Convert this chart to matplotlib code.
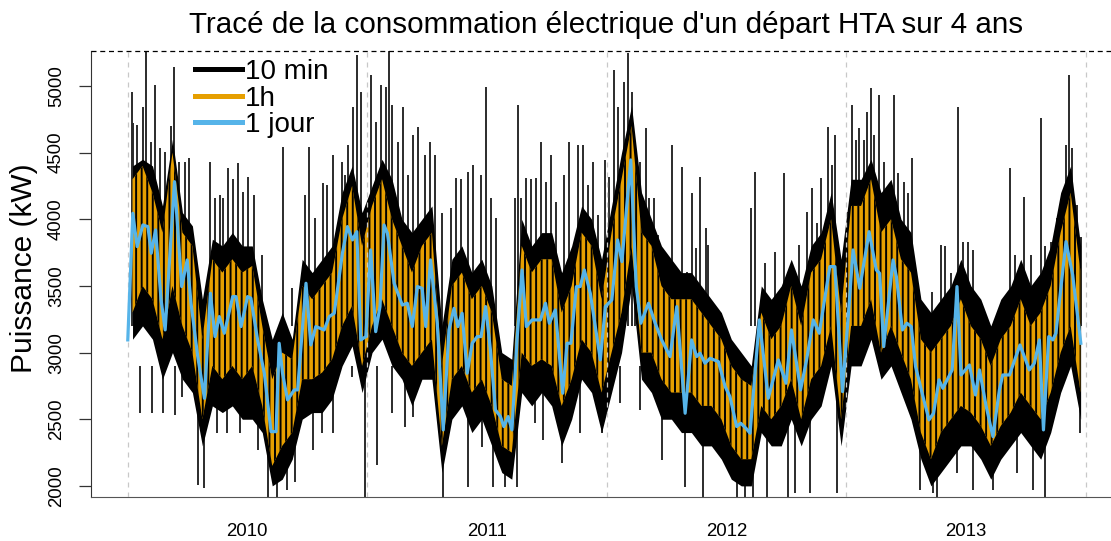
import numpy as np
import matplotlib
matplotlib.use('Agg')
import matplotlib.pyplot as plt
from matplotlib.lines import Line2D

plt.rcParams['font.family'] = ['Liberation Sans', 'DejaVu Sans']
plt.rcParams['hatch.linewidth'] = 1.4

# grille demi-mensuelle, juillet 2009 -> juin 2013 (annees decimales)
t = 2009.5 + (np.arange(96) + 0.5) / 24

# pas 10 min : enveloppe basse / haute du faisceau (kW), 12 valeurs par semestre
p10_lo = [3100, 3200, 3100, 2800, 3000, 2800, 2700, 2300, 2600, 2550, 2600, 2500,
          2500, 2400, 2000, 2050, 2200, 2500, 2550, 2550, 2650, 2900, 3050, 2700,
          3000, 3100, 2900, 2800, 2600, 2800, 2800, 2100, 2500, 2600, 2400, 2500,
          2300, 2100, 2050, 2700, 2600, 2700, 2600, 2300, 2500, 2800, 2700, 2400,
          2700, 3000, 3500, 2800, 2700, 2500, 2500, 2400, 2400, 2300, 2300, 2200,
          2050, 2000, 2000, 2400, 2300, 2300, 2500, 2300, 2500, 2600, 2900, 2300,
          2900, 2900, 3100, 2800, 2900, 2700, 2500, 2200, 2000, 2100, 2200, 2300,
          2300, 2200, 2050, 2200, 2300, 2400, 2300, 2200, 2400, 2700, 2900, 2500]
p10_hi = [4400, 4450, 4400, 4100, 4600, 4050, 3950, 3400, 3850, 3800, 3900, 3800,
          3800, 3400, 3100, 3300, 3100, 3700, 3600, 3700, 3800, 4200, 4400, 4050,
          4250, 4450, 4300, 4000, 3900, 4000, 4100, 3200, 3700, 3800, 3600, 3700,
          3500, 3000, 2950, 4000, 3800, 3900, 3900, 3600, 3800, 4100, 4000, 3700,
          4100, 4500, 4850, 4200, 4000, 3800, 3700, 3600, 3600, 3500, 3400, 3300,
          3100, 3000, 2900, 3500, 3400, 3500, 3700, 3500, 3800, 3900, 4200, 3700,
          4300, 4300, 4450, 4200, 4300, 4000, 3900, 3400, 3300, 3400, 3500, 3700,
          3500, 3400, 3200, 3400, 3500, 3700, 3500, 3600, 3800, 4200, 4400, 3800]

# pics isoles du pas 10 min (sommets)
pic_haut_t = [2009.518, 2009.522, 2009.539, 2009.564, 2009.579, 2009.596, 2009.614,
              2009.635, 2009.656, 2009.683, 2009.693, 2009.714, 2009.739, 2009.756,
              2009.844, 2009.865, 2009.886, 2009.900, 2009.921, 2009.942, 2009.963,
              2009.984, 2010.005, 2010.026, 2010.061, 2010.147, 2010.186, 2010.242,
              2010.258, 2010.281, 2010.317, 2010.331, 2010.356, 2010.394, 2010.408,
              2010.422, 2010.443, 2010.460, 2010.474, 2010.516, 2010.537, 2010.558,
              2010.579, 2010.592, 2010.606, 2010.629, 2010.650, 2010.671, 2010.692,
              2010.713, 2010.741, 2010.762, 2010.783, 2010.811, 2010.852, 2010.873,
              2010.894, 2010.922, 2010.942, 2010.977, 2010.998, 2011.019, 2011.040,
              2011.116, 2011.130, 2011.144, 2011.165, 2011.185, 2011.206, 2011.227,
              2011.248, 2011.269, 2011.290, 2011.324, 2011.345, 2011.380, 2011.401,
              2011.422, 2011.442, 2011.463, 2011.495, 2011.509, 2011.530, 2011.548,
              2011.571, 2011.589, 2011.607, 2011.617, 2011.638, 2011.665, 2011.679,
              2011.697, 2011.715, 2011.772, 2011.790, 2011.813, 2011.834, 2011.855,
              2011.873, 2011.890, 2011.914, 2011.924, 2012.105, 2012.119, 2012.161,
              2012.202, 2012.240, 2012.279, 2012.302, 2012.337, 2012.357, 2012.380,
              2012.397, 2012.423, 2012.441, 2012.455, 2012.506, 2012.524, 2012.541,
              2012.555, 2012.576, 2012.587, 2012.604, 2012.618, 2012.636, 2012.659,
              2012.680, 2012.700, 2012.717, 2012.740, 2012.758, 2012.777, 2012.857,
              2012.896, 2012.913, 2012.938, 2012.968, 2012.989, 2013.007, 2013.031,
              2013.183, 2013.204, 2013.243, 2013.274, 2013.313, 2013.329, 2013.357,
              2013.382, 2013.403, 2013.417, 2013.430, 2013.444, 2013.465, 2013.479]
pic_haut_kw = [4958, 4720, 4708, 4845, 5257, 4583, 5007,
               4533, 4508, 4700, 5145, 4432, 4432, 4457,
               4432, 4158, 4182, 4160, 4382, 4300, 4420,
               4208, 4320, 4182, 3732, 4545, 3482, 4182,
               4545, 4008, 4270, 4260, 4482, 4432, 4332,
               4557, 4845, 5232, 4958, 5082, 4733, 5007,
               4995, 5270, 4858, 4583, 4845, 4332, 4632,
               4695, 4482, 4583, 4480, 4045, 4082, 4307,
               4300, 4357, 4407, 4330, 4995, 4158, 4008,
               4158, 4858, 4160, 4307, 4300, 4310, 4583,
               4282, 4482, 4132, 4332, 4583, 4557, 4557,
               4257, 4432, 4032, 4445, 4320, 5120, 4845,
               5032, 5245, 4958, 3857, 4432, 4682, 4158,
               4160, 3882, 4557, 3507, 4395, 3607, 4195,
               3782, 4320, 3932, 3807, 4082, 4357, 3670,
               3757, 4345, 3645, 3807, 4057, 4232, 3970,
               4307, 4695, 4407, 4632, 4057, 4857, 4595,
               4682, 4595, 4808, 4982, 4632, 4932, 4432,
               4132, 4932, 4350, 4282, 4195, 4457, 3457,
               3807, 3800, 3600, 4845, 3832, 3830, 3770,
               4382, 3732, 4170, 3730, 4757, 3800, 3832,
               4008, 4000, 4557, 5082, 4532, 4107, 3870]
# creux isoles du pas 10 min (minima)
pic_bas_t = [2009.551, 2009.601, 2009.647, 2009.697, 2009.726, 2009.794, 2009.819,
             2009.873, 2009.915, 2009.969, 2010.044, 2010.086, 2010.124, 2010.165,
             2010.199, 2010.274, 2010.311, 2010.357, 2010.437, 2010.491, 2010.541,
             2010.604, 2010.658, 2010.691, 2010.816, 2010.921, 2010.979, 2011.025,
             2011.075, 2011.125, 2011.200, 2011.233, 2011.313, 2011.388, 2011.480,
             2011.555, 2011.639, 2011.731, 2011.827, 2011.902, 2012.002, 2012.044,
             2012.077, 2012.110, 2012.169, 2012.257, 2012.286, 2012.349, 2012.461,
             2012.808, 2012.862, 2012.879, 2012.962, 2013.029, 2013.113, 2013.213,
             2013.280, 2013.330, 2013.476]
pic_bas_kw = [2545, 2545, 2545, 2530, 2670, 2007, 1982,
              2395, 2395, 2395, 2270, 1900, 1900, 1970,
              2032, 2270, 2395, 2395, 2820, 1900, 2157,
              2545, 2445, 2520, 1900, 1995, 2295, 1995,
              1995, 1995, 2470, 2345, 2170, 2395, 2395,
              2620, 2570, 2195, 1995, 1900, 2195, 1900,
              1900, 1900, 1900, 1900, 1945, 1945, 1945,
              1970, 1945, 1900, 2095, 1970, 1970, 2095,
              1970, 1900, 2395]

# pas 1 h : enveloppe basse / haute
p1h_lo = [3300, 3500, 3400, 3100, 3500, 3200, 3000, 2500, 2900, 2800, 2900, 2800,
          2900, 2600, 2150, 2300, 2400, 2800, 2800, 2850, 2950, 3200, 3350, 2900,
          3200, 3400, 3200, 3000, 2900, 3000, 3100, 2300, 2800, 2900, 2700, 2800,
          2600, 2300, 2250, 3000, 2900, 2950, 2900, 2600, 2800, 3100, 3000, 2700,
          3000, 3300, 3800, 3000, 3000, 2800, 2700, 2700, 2700, 2600, 2600, 2500,
          2300, 2200, 2200, 2600, 2500, 2600, 2800, 2500, 2800, 2900, 3200, 2500,
          3200, 3200, 3400, 3000, 3200, 3000, 2800, 2400, 2200, 2400, 2500, 2600,
          2550, 2450, 2300, 2450, 2550, 2700, 2600, 2500, 2700, 3000, 3200, 2700]
p1h_hi = [4300, 4400, 4200, 3900, 4500, 3900, 3800, 3100, 3700, 3600, 3700, 3600,
          3650, 3200, 2800, 3000, 2950, 3500, 3400, 3500, 3600, 4000, 4250, 3800,
          4100, 4300, 4000, 3800, 3600, 3800, 3900, 2900, 3500, 3600, 3400, 3500,
          3300, 2800, 2750, 3800, 3600, 3700, 3700, 3300, 3500, 3900, 3800, 3400,
          3900, 4300, 4700, 3900, 3800, 3500, 3400, 3400, 3400, 3300, 3200, 3100,
          2900, 2800, 2750, 3300, 3100, 3200, 3500, 3200, 3600, 3700, 4000, 3300,
          4100, 4100, 4300, 3900, 4000, 3700, 3600, 3100, 3000, 3100, 3200, 3400,
          3200, 3100, 2900, 3100, 3200, 3400, 3200, 3300, 3500, 3900, 4200, 3600]

# pas 1 jour (courbe lissee)
jour_t = [2009.501, 2009.522, 2009.540, 2009.564, 2009.585, 2009.599, 2009.617, 2009.640,
          2009.657, 2009.696, 2009.726, 2009.749, 2009.765, 2009.793, 2009.821, 2009.846,
          2009.865, 2009.883, 2009.904, 2009.939, 2009.953, 2009.974, 2010.001, 2010.015,
          2010.043, 2010.071, 2010.099, 2010.120, 2010.133, 2010.147, 2010.168, 2010.196,
          2010.210, 2010.245, 2010.265, 2010.286, 2010.321, 2010.342, 2010.363, 2010.397,
          2010.418, 2010.439, 2010.457, 2010.474, 2010.495, 2010.515, 2010.536, 2010.554,
          2010.571, 2010.585, 2010.613, 2010.647, 2010.668, 2010.689, 2010.710, 2010.730,
          2010.745, 2010.765, 2010.793, 2010.818, 2010.842, 2010.863, 2010.879, 2010.897,
          2010.918, 2010.939, 2010.960, 2010.976, 2010.995, 2011.015, 2011.036, 2011.057,
          2011.071, 2011.089, 2011.105, 2011.126, 2011.147, 2011.165, 2011.189, 2011.224,
          2011.245, 2011.261, 2011.286, 2011.317, 2011.335, 2011.351, 2011.374, 2011.390,
          2011.407, 2011.432, 2011.453, 2011.474, 2011.495, 2011.522, 2011.546, 2011.564,
          2011.601, 2011.624, 2011.643, 2011.675, 2011.703, 2011.730, 2011.765, 2011.793,
          2011.828, 2011.855, 2011.876, 2011.890, 2011.911, 2011.932, 2011.967, 2011.995,
          2012.015, 2012.043, 2012.060, 2012.082, 2012.099, 2012.138, 2012.175, 2012.217,
          2012.249, 2012.272, 2012.310, 2012.335, 2012.363, 2012.388, 2012.432, 2012.453,
          2012.485, 2012.513, 2012.529, 2012.557, 2012.596, 2012.626, 2012.640, 2012.657,
          2012.675, 2012.696, 2012.710, 2012.735, 2012.754, 2012.772, 2012.790, 2012.821,
          2012.846, 2012.865, 2012.888, 2012.904, 2012.932, 2012.943, 2012.963, 2012.980,
          2013.015, 2013.040, 2013.057, 2013.085, 2013.113, 2013.140, 2013.154, 2013.182,
          2013.226, 2013.265, 2013.286, 2013.307, 2013.324, 2013.346, 2013.363, 2013.376,
          2013.418, 2013.446, 2013.480]
jour_kw = [3095, 4045, 3795, 3957, 3945, 3745, 3920, 3395,
           3170, 4282, 3495, 3695, 3370, 2970, 2657, 3445,
           3120, 3270, 3145, 3420, 3420, 3195, 3420, 3408,
           3095, 2845, 2407, 2407, 3070, 2845, 2645, 2720,
           2720, 3520, 3057, 3195, 3170, 3270, 3295, 3745,
           3945, 3845, 3907, 3095, 3120, 3770, 3157, 3345,
           3957, 3895, 3520, 3357, 3370, 3195, 3495, 3482,
           3195, 3695, 3220, 2420, 3170, 3332, 3195, 3295,
           2845, 3070, 3120, 3120, 3345, 3020, 2570, 2520,
           2445, 2520, 2420, 3095, 3620, 3195, 3245, 3245,
           3370, 3220, 3320, 2695, 3070, 3070, 3495, 3495,
           3620, 3445, 3195, 2945, 3345, 3395, 3845, 3682,
           4445, 3495, 3220, 3370, 3220, 3095, 2970, 3345,
           2545, 3095, 2970, 2995, 2920, 2957, 2932, 2745,
           2670, 2445, 2470, 2432, 2395, 3245, 2657, 2945,
           2770, 3170, 2720, 2945, 3245, 3145, 3645, 3645,
           2707, 3370, 3770, 3482, 3907, 3620, 3595, 3045,
           3345, 3695, 3570, 3170, 3220, 3195, 2895, 2670,
           2495, 2545, 2795, 2732, 2832, 2870, 3495, 2832,
           2907, 2682, 2870, 2595, 2370, 2720, 2832, 2832,
           3057, 2870, 2920, 3095, 2420, 3120, 3095, 3145,
           3832, 3582, 3070]

annees = [2010, 2011, 2012, 2013]
mi_annees = [2009.5, 2010.5, 2011.5, 2012.5, 2013.5]
max_kw = 5262

fig = plt.figure(figsize=(11.11, 5.41), dpi=100)
ax = fig.add_axes([0.0816, 0.0819, 0.9184, 0.8238])

# 10 min : pics dessines sous le faisceau
ax.vlines(pic_haut_t, 3200, pic_haut_kw, color='#2b2b2b', lw=1.4, zorder=1.5)
ax.vlines(pic_bas_t, pic_bas_kw, 2900, color='#2b2b2b', lw=1.4, zorder=1.5)
ax.fill_between(t, p10_lo, p10_hi, color='black', lw=0, zorder=2)
# 1h
ax.fill_between(t, p1h_lo, p1h_hi, facecolor='#E69F00', edgecolor='black',
                hatch='|||', lw=0, zorder=3)
# 1 jour
ax.plot(jour_t, jour_kw, color='#56B4E9', lw=2.3, zorder=5)

for a in mi_annees:
    ax.axvline(a, color='#c8c8c8', ls=(0, (4, 4)), lw=0.9, zorder=4)
ax.axhline(max_kw, color='black', ls=(0, (4, 3)), lw=0.9, clip_on=False, zorder=6)

ax.set_xlim(2009.346, 2013.606)
ax.set_ylim(1919, 5262)

ax.spines['top'].set_visible(False)
ax.spines['right'].set_visible(False)
ax.spines['left'].set_color('#333333')
ax.spines['bottom'].set_color('#555555')

ax.set_yticks([2000, 2500, 3000, 3500, 4000, 4500, 5000])
ax.tick_params(axis='y', length=8.6, width=0.9, color='#333333', pad=10,
               labelsize=13.4, labelrotation=90)
for lab in ax.get_yticklabels():
    lab.set_va('center')
ax.set_xticks(annees)
ax.set_xticklabels([str(a) for a in annees])
ax.tick_params(axis='x', length=0, pad=19, labelsize=13.4)

fig.text(0.5455, 1 - 25 / 541, "Tracé de la consommation électrique d'un départ HTA sur 4 ans",
         ha='center', va='center', fontsize=21.3)
fig.text(24 / 1111, 1 - 268 / 541, 'Puissance (kW)', rotation=90,
         ha='center', va='center', fontsize=21.5)

handles = [Line2D([], [], color='black', lw=3.6),
           Line2D([], [], color='#E69F00', lw=3.6),
           Line2D([], [], color='#56B4E9', lw=3.6)]
ax.legend(handles, ['10 min', '1h', '1 jour'], loc='upper left',
          bbox_to_anchor=(195 / 1111, 1 - 59 / 541), bbox_transform=fig.transFigure,
          frameon=False, fontsize=20, handlelength=1.69, handletextpad=0.1,
          labelspacing=0.02, borderpad=0, borderaxespad=0)

fig.savefig('out.png', dpi=100)
